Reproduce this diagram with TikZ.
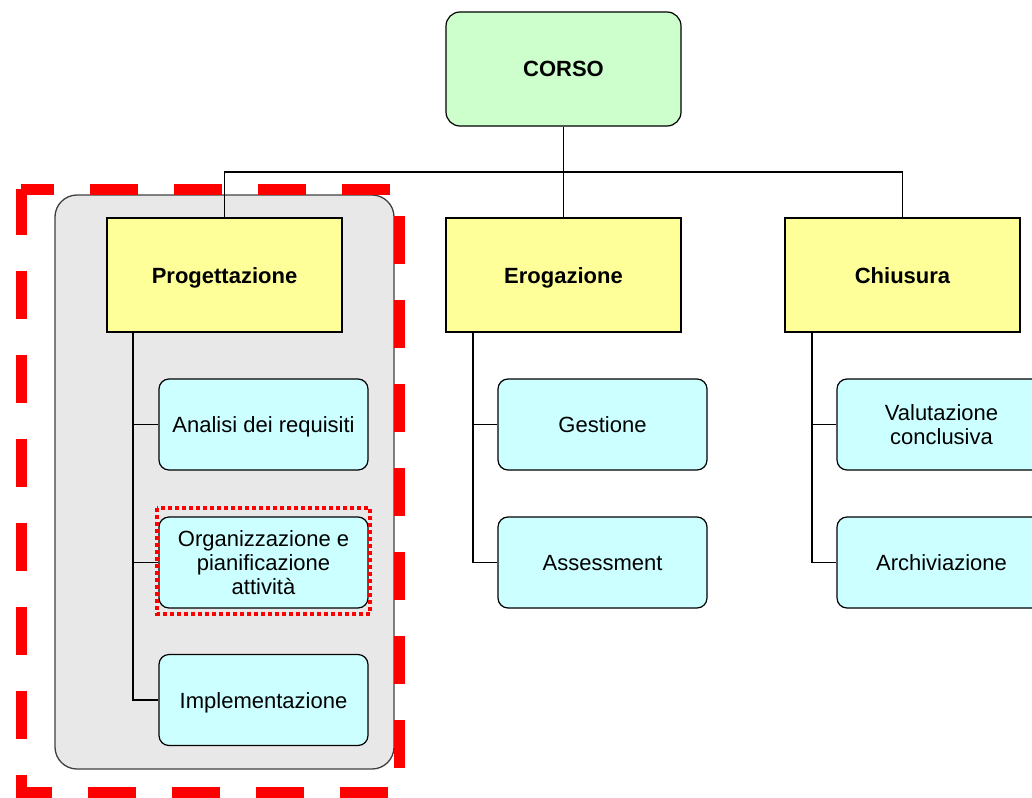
\documentclass[tikz,border=0pt]{standalone}
\usepackage{fontspec}
\setmainfont{Liberation Sans}
\definecolor{corsog}{HTML}{CCFFCC}
\definecolor{phasey}{HTML}{FFFF99}
\definecolor{taskc}{HTML}{CCFFFF}
\definecolor{groupg}{HTML}{E8E8E8}
\definecolor{hlred}{HTML}{FF0000}
\begin{document}
\begin{tikzpicture}[x=1pt,y=-1pt,
  base/.style={draw=black, line width=1.2pt, inner sep=0pt, align=center,
    font=\fontsize{22}{24}\selectfont},
  oneline/.style={text height=16pt, text depth=0pt},
  corsobox/.style={base, oneline, fill=corsog, rounded corners=14pt, minimum width=235pt, minimum height=114pt,
    font=\fontsize{22}{24}\selectfont\bfseries},
  phasebox/.style={base, oneline, fill=phasey, minimum width=235pt, minimum height=114pt,
    font=\fontsize{22}{24}\selectfont\bfseries},
  taskbox/.style={base, fill=taskc, rounded corners=10pt, minimum width=209pt, minimum height=91pt},
  conn/.style={draw=black, line width=1.3pt},
  groupbox/.style={draw=black!75, line width=1.3pt, fill=groupg, rounded corners=22pt},
  bigdash/.style={draw=hlred, line width=11pt, dash pattern=on 48pt off 36pt, dash phase=15pt},
  smalldot/.style={draw=hlred, line width=4.5pt, dash pattern=on 4pt off 3pt}
]
\clip (0,0) rectangle (1032,797);
\useasboundingbox (0,0) rectangle (1032,797);

% group background
\draw[groupbox] (55,195) rectangle (394,769);

% nodes
\node[corsobox] (corso) at (563.5,69) {CORSO};
\node[phasebox] (prog)  at (224.5,275) {Progettazione};
\node[phasebox] (erog)  at (563.5,275) {Erogazione};
\node[phasebox] (chius) at (902.5,275) {Chiusura};

\node[taskbox, oneline] (anal) at (263.5,424.5) {Analisi dei requisiti};
\node[taskbox] (org)  at (263.5,562.5) {Organizzazione e\\pianificazione\\attività};
\node[taskbox, oneline] (impl) at (263.5,700) {Implementazione};

\node[taskbox, oneline] (gest) at (602.5,424.5) {Gestione};
\node[taskbox, oneline] (asse) at (602.5,562.5) {Assessment};

\node[taskbox] (valu) at (941.5,424.5) {Valutazione\\conclusiva};
\node[taskbox, oneline] (arch) at (941.5,562.5) {Archiviazione};

% connectors
\coordinate (bus) at (563.5,172);
\draw[conn] (corso.south) -- (erog.north);
\draw[conn] (prog.north) |- (bus) -| (chius.north);

\coordinate (pspine) at (133,332);
\coordinate (espine) at (473,332);
\coordinate (cspine) at (812,332);

\draw[conn] (pspine) |- (impl.west);
\draw[conn] (pspine |- anal.west) -- (anal.west);
\draw[conn] (pspine |- org.west) -- (org.west);

\draw[conn] (espine) |- (asse.west);
\draw[conn] (espine |- gest.west) -- (gest.west);

\draw[conn] (cspine) |- (arch.west);
\draw[conn] (cspine |- valu.west) -- (valu.west);

% highlights
\draw[smalldot] (157,508) rectangle (370,614);
\draw[bigdash] (21,189) -- (399.5,189) -- (399.5,792) -- (21,792) -- cycle;
\end{tikzpicture}
\end{document}
